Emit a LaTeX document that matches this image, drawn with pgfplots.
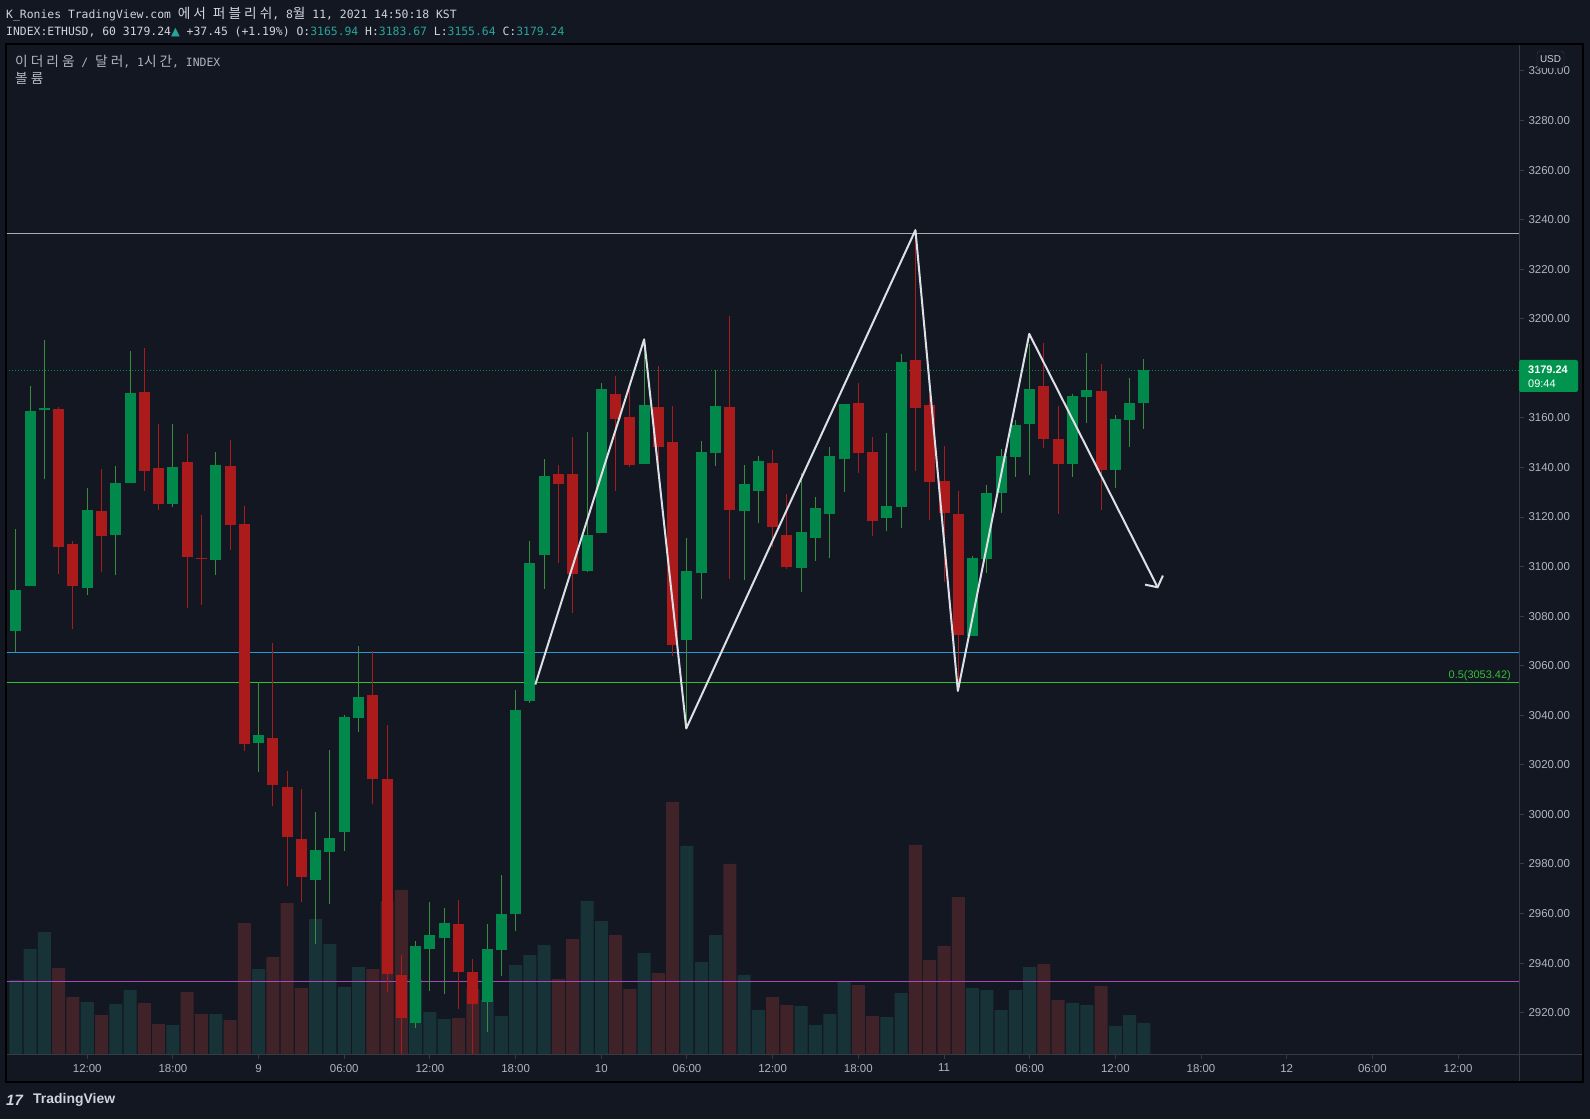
\documentclass[border=0pt]{standalone}
\usepackage{pgfplots}
\pgfplotsset{compat=1.18}
\usepackage{pgfplotstable}
\usetikzlibrary{arrows.meta}
\usepackage{fontspec}
\setmainfont{Liberation Sans}
\newfontfamily\monofont{DejaVu Sans Mono}
\newfontfamily\kofont{Noto Sans CJK KR}[Scale=1.2, LetterSpace=22]
\newfontfamily\symfont{DejaVu Sans}
\newcommand{\ko}[1]{{\kofont #1}}

\definecolor{bg}{HTML}{131722}
\definecolor{txt}{HTML}{D1D4DC}
\definecolor{txtdim}{HTML}{B2B5BE}
\definecolor{sep}{HTML}{363A45}
\definecolor{upc}{HTML}{00894A}
\definecolor{upwick}{HTML}{388E3C}
\definecolor{dnc}{HTML}{AC1B1C}
\definecolor{volup}{HTML}{173338}
\definecolor{voldn}{HTML}{402329}
\definecolor{tvteal}{HTML}{26A69A}
\definecolor{lineblue}{HTML}{2A96DC}
\definecolor{linegreen}{HTML}{33C033}
\definecolor{linepurple}{HTML}{AB47BC}
\definecolor{linegrey}{HTML}{A8ABB3}
\definecolor{zig}{HTML}{DCDFE6}
\definecolor{pricegreen}{HTML}{00944F}

% t = hours since 8 Aug 00:00 ; V = volume bar height (px)
\pgfplotstableread{
t O H L C V
7 3074 3115.2 3065.5 3090.5 74
8 3092.3 3172.9 3092 3162.8 105
9 3163 3191.4 3135.5 3164 122
12 3091.5 3131.7 3088.5 3122.8 52
14 3112.9 3140.6 3096.6 3133.7 50
15 3133.9 3187 3133.8 3170 64
18 3125.4 3157.5 3124.2 3140.2 29
21 3102.8 3146.2 3096.8 3141.1 40
24 3029 3053.3 3017.2 3032.1 85
28 2973.7 3001 2947.5 2985.6 135
29 2985 3026 2963.7 2990.5 110
30 2992.7 3040.1 2985.3 3039.3 67
31 3039 3067.9 3033.4 3047.3 87
35 2915.8 2949 2913.8 2947 75
36 2945.7 2964.7 2928.7 2951.3 42
37 2950 2962.2 2927.5 2956.2 35
40 2924.4 2955.8 2912.3 2945.7 54
41 2945.3 2975.5 2934.8 2959.8 38
42 2959.6 3050.3 2953.1 3042.1 89
43 3045.9 3110.3 3045 3101.4 99
44 3104.5 3143.4 3091 3136.6 109
47 3098.2 3154.3 3097.9 3112.8 153
48 3113.6 3174.1 3113.4 3171.7 133
51 3141.6 3190 3141.4 3165.2 101
54 3070.5 3111.6 3035.4 3098.2 208
55 3097.6 3150.7 3087.1 3146.3 92
56 3146 3179.2 3140.7 3164.8 119
58 3122.6 3141 3094.7 3133.3 79
59 3130.7 3144.6 3117.7 3142.6 44
62 3099.6 3137.7 3089.9 3114 48
63 3111.7 3128.1 3102.4 3123.7 29
64 3121.4 3148.2 3103.6 3144.7 40
65 3143.6 3165.8 3130.3 3165.6 72
68 3119.8 3153.9 3114.5 3124.5 37
69 3124.2 3185.8 3115.7 3182.6 61
74 3072.1 3104.3 3072 3103.5 66
75 3103.2 3132.9 3097.5 3129.7 64
76 3129.8 3147.4 3121.8 3144.6 44
77 3144.3 3159.1 3136.3 3157.1 64
78 3157.7 3190 3137.1 3171.7 87
81 3141.5 3169.6 3136.3 3168.8 51
82 3168.6 3186.2 3158.1 3171.3 49
84 3139.1 3161.2 3131.8 3159.5 28
85 3159.3 3176.1 3148.4 3166 39
86 3165.94 3183.67 3155.64 3179.24 31
}\upt

\pgfplotstableread{
t O H L C V
10 3163.6 3164.3 3097.1 3108 86
11 3109.1 3110.3 3074.8 3092.3 57
13 3122.4 3139.4 3097.9 3112.5 39
16 3170.4 3188.2 3130.6 3138.7 51
17 3139.8 3157.5 3123 3125.4 30
19 3142.2 3153.5 3083.4 3104 62
20 3103.5 3120.8 3084.6 3103.2 40
22 3140.6 3151.1 3106.5 3116.9 34
23 3117.2 3124.4 3025.4 3028.5 131
25 3030.9 3069.2 3003.5 3012 97
26 3011.1 3017.5 2971.2 2990.7 151
27 2990 3010.3 2964.5 2974.9 66
32 3048.1 3066 3004 3014.1 85
33 3014.2 3036 2928.5 2935.7 153
34 2935.2 2943.2 2900 2917.8 164
38 2955.8 2965.5 2921.5 2936.4 36
39 2936.4 2941.7 2900 2923.5 65
45 3137.3 3141 3101.5 3133.3 75
46 3137.3 3152.3 3081.4 3097 115
49 3169.7 3176.9 3130.5 3159.7 119
50 3160.4 3172.1 3140.3 3141.1 65
52 3164.4 3181 3136.3 3148.4 81
53 3150.3 3164.8 3064.1 3068.5 252
57 3164.4 3201.1 3094.9 3123 190
60 3141.8 3147.1 3107.8 3116.1 57
61 3112.8 3129.3 3099.1 3100 49
66 3166 3174.1 3137.9 3146 69
67 3146.3 3152.3 3112.5 3118.2 38
70 3183.4 3234.5 3138.7 3163.8 209
71 3165.2 3169.3 3119 3134.3 94
72 3134.6 3148.7 3093.9 3121.8 108
73 3121.3 3130.5 3051.4 3072.2 157
79 3172.9 3190.2 3148 3151.6 90
80 3151.5 3164.8 3121.3 3141.5 54
83 3170.8 3181.7 3123 3139.1 68
}\dnt

\pgfplotsset{candle/.style={only marks, mark=*, mark size=0pt,
  mark options={draw=none, fill=none}}}

\begin{document}
\begin{tikzpicture}[x=1bp,y=1bp]
\useasboundingbox (0,0) rectangle (1590,1119);
\fill[bg] (0,0) rectangle (1590,1119);

% ---------- volume pane ----------
\begin{axis}[at={(6bp,65bp)}, anchor=south west, scale only axis,
  width=1513bp, height=1010bp,
  xmin=6.31, xmax=112.27, ymin=0, ymax=1010, hide axis]
\addplot[ybar, bar width=13bp, bar shift=0pt, fill=volup, draw=none] table[x=t,y=V]{\upt};
\addplot[ybar, bar width=13bp, bar shift=0pt, fill=voldn, draw=none] table[x=t,y=V]{\dnt};
\end{axis}

% ---------- price pane ----------
\begin{axis}[at={(6bp,65bp)}, anchor=south west, scale only axis,
  width=1513bp, height=1010bp,
  xmin=6.31, xmax=112.27, ymin=2903.3, ymax=3310.9,
  axis line style={draw=none},
  xtick={12,18,...,108},
  xticklabels={12:00,18:00,9,06:00,12:00,18:00,10,06:00,12:00,18:00,11,06:00,12:00,18:00,12,06:00,12:00},
  ytick={2920,2940,...,3300},
  scaled y ticks=false,
  ytick pos=right, xtick pos=bottom,
  tick align=outside, major tick length=4.5bp,
  tick style={color=sep, line width=1bp},
  /pgf/number format/assume math mode=true,
  ticklabel style={font=\fontsize{11.5}{13}\selectfont, text=txtdim},
  xticklabel style={yshift=-2bp},
  yticklabel style={xshift=1.5bp, /pgf/number format/fixed, /pgf/number format/fixed zerofill,
    /pgf/number format/precision=2, /pgf/number format/1000 sep={}},
]
% horizontal drawing lines
\addplot[linegrey, line width=1bp] coordinates {(6.31,3234.5) (112.27,3234.5)};
\addplot[lineblue, line width=1bp] coordinates {(6.31,3065.4) (112.27,3065.4)};
\addplot[linegreen, line width=1bp] coordinates {(6.31,3053.42) (112.27,3053.42)};
\addplot[linepurple, line width=1bp] coordinates {(6.31,2932.6) (112.27,2932.6)};
\addplot[upc, line width=1bp, dash pattern=on 1bp off 2bp] coordinates {(6.31,3179.24) (112.27,3179.24)};

% wicks
\addplot[candle, error bars/.cd, y dir=both, y explicit, error mark=none,
  error bar style={draw=upwick, line width=1bp}]
  table[x=t, y=L, y error plus expr={\thisrow{H}-\thisrow{L}}, y error minus expr={0}] {\upt};
\addplot[candle, error bars/.cd, y dir=both, y explicit, error mark=none,
  error bar style={draw=dnc, line width=1bp}]
  table[x=t, y=L, y error plus expr={\thisrow{H}-\thisrow{L}}, y error minus expr={0}] {\dnt};
% bodies
\addplot[candle, error bars/.cd, y dir=both, y explicit, error mark=none,
  error bar style={draw=upc, line width=11bp}]
  table[x=t, y=O, y error plus expr={\thisrow{C}-\thisrow{O}}, y error minus expr={0}] {\upt};
\addplot[candle, error bars/.cd, y dir=both, y explicit, error mark=none,
  error bar style={draw=dnc, line width=11bp}]
  table[x=t, y=C, y error plus expr={\thisrow{O}-\thisrow{C}}, y error minus expr={0}] {\dnt};

% zigzag drawing
\addplot[zig, line width=2bp, line join=round, -{Straight Barb[length=8bp,width=20bp,line width=2bp]}]
  coordinates {(43.38,3052.4) (51.0,3191.7) (53.95,3034.7) (70.0,3235.8) (72.97,3049.8) (77.97,3193.9) (87.0,3091.2)};
\end{axis}

% separators and frame
\draw[sep, line width=1bp] (1519,37) -- (1519,1075);
\draw[sep, line width=1bp] (6,65) -- (1583,65);
\draw[black, line width=1.5bp] (6,37) rectangle (1583,1075);

% header
\node[anchor=base west, inner sep=0, text=txt, font=\monofont\fontsize{11.45}{13}\selectfont] at (6,1100)
  {K\_Ronies TradingView.com \ko{에서} \ko{퍼블리쉬}, 8\ko{월} 11, 2021 14:50:18 KST};
\node[anchor=base west, inner sep=0, text=txt, font=\monofont\fontsize{11.45}{13}\selectfont] at (6,1083)
  {INDEX:ETHUSD, 60 3179.24{\color{tvteal}\symfont ▲} +37.45 (+1.19\%) O:{\color{tvteal}3165.94} H:{\color{tvteal}3183.67} L:{\color{tvteal}3155.64} C:{\color{tvteal}3179.24}};
\node[anchor=base west, inner sep=0, text=txtdim, font=\monofont\fontsize{11.45}{13}\selectfont] at (15,1052.5)
  {\ko{이더리움} / \ko{달러}, 1\ko{시간}, INDEX};
\node[anchor=base west, inner sep=0, text=txtdim, font=\monofont\fontsize{11.45}{13}\selectfont] at (15,1035)
  {\ko{볼륨}};

% Fibonacci level label
\node[anchor=base east, inner sep=0, text=linegreen, font=\fontsize{11}{12}\selectfont] at (1511,440.5) {0.5(3053.42)};

% price label on scale
\fill[pricegreen, rounded corners=2bp] (1519,727) rectangle (1578,759);
\node[anchor=west, inner sep=0, text=white, font=\bfseries\fontsize{11}{12}\selectfont] at (1528,749) {3179.24};
\node[anchor=west, inner sep=0, text=white, font=\fontsize{11}{12}\selectfont] at (1528,735) {09:44};

% USD box
\filldraw[fill=bg, draw=sep, rounded corners=3bp] (1537,1051) rectangle (1564,1068);
\node[text=txt, inner sep=0, font=\fontsize{10}{11}\selectfont] at (1550.5,1059.5) {USD};

% TradingView logo
\node[anchor=west, inner sep=0, text=txt, font=\bfseries\itshape\fontsize{15}{16}\selectfont] at (6,1119-1100) {17};
\node[anchor=west, inner sep=0, text=txt, font=\bfseries\fontsize{14}{15}\selectfont] at (33,1119-1100) {TradingView};
\end{tikzpicture}
\end{document}
